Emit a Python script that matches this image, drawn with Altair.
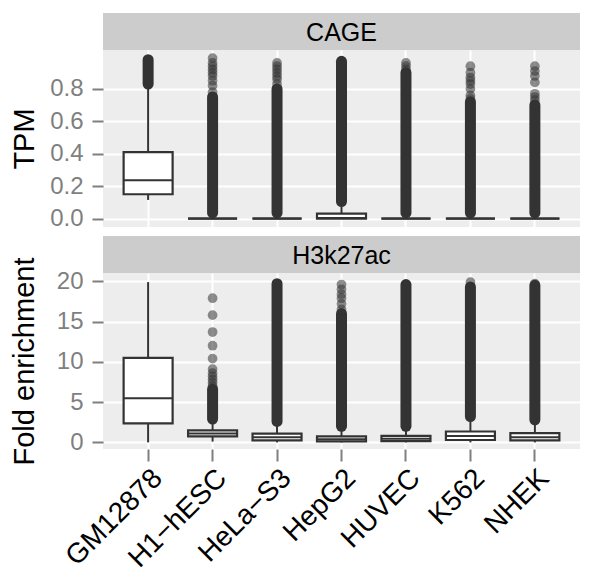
import altair as alt
import pandas as pd

cells = ["GM12878", "H1\u2212hESC", "HeLa\u2212S3", "HepG2", "HUVEC", "K562", "NHEK"]
facet_labels = ["CAGE", "H3k27ac"]

# CAGE (TPM) box statistics
cage_lower = [0.115, 0.0, 0.0, 0.0, 0.0, 0.0, 0.0]
cage_q1 = [0.15, 0.0, 0.0, 0.0, 0.0, 0.0, 0.0]
cage_median = [0.237, 0.0, 0.0, 0.004, 0.0, 0.0, 0.0]
cage_q3 = [0.41, 0.0, 0.0, 0.03, 0.0, 0.0, 0.0]
cage_upper = [0.80, 0.0, 0.0, 0.072, 0.0, 0.0, 0.0]
# dense runs of outliers (low, high)
cage_dense_lo = [0.83, 0.035, 0.035, 0.105, 0.035, 0.035, 0.035]
cage_dense_hi = [0.98, 0.75, 0.80, 0.97, 0.90, 0.72, 0.70]
# sparse outliers
cage_outliers = {
    "H1\u2212hESC": [0.78, 0.82, 0.85, 0.88, 0.90, 0.92, 0.94, 0.96, 0.99],
    "HeLa\u2212S3": [0.83, 0.86, 0.88, 0.90, 0.92, 0.94, 0.96],
    "HUVEC": [0.92, 0.94, 0.96],
    "K562": [0.74, 0.76, 0.80, 0.83, 0.85, 0.87, 0.90, 0.94],
    "NHEK": [0.73, 0.75, 0.77, 0.84, 0.88, 0.91, 0.94],
}

# H3k27ac (fold enrichment) box statistics
h3_lower = [0.0, 0.1, 0.0, 0.0, 0.0, 0.0, 0.0]
h3_q1 = [2.37, 0.75, 0.25, 0.12, 0.15, 0.30, 0.25]
h3_median = [5.48, 1.10, 0.65, 0.38, 0.45, 0.80, 0.65]
h3_q3 = [10.5, 1.50, 1.10, 0.75, 0.80, 1.35, 1.15]
h3_upper = [19.9, 2.6, 2.3, 1.7, 1.75, 2.9, 2.5]
h3_dense_lo = [None, 2.9, 2.6, 2.0, 2.0, 3.2, 2.8]
h3_dense_hi = [None, 6.6, 19.7, 16.0, 19.6, 19.3, 19.5]
h3_outliers = {
    "H1\u2212hESC": [7.0, 7.4, 7.8, 8.2, 8.6, 9.1, 10.4, 12.0, 13.7, 15.8, 17.9],
    "HepG2": [16.5, 17.2, 17.9, 18.4, 19.0, 19.6],
    "K562": [19.9],
    "NHEK": [19.7],
}

cage_ticks = [0.0, 0.2, 0.4, 0.6, 0.8]
h3_ticks = [0, 5, 10, 15, 20]

W = 477
FONT = "Liberation Sans"
DARK = "#333333"
GREY = "#7F7F7F"


def box_df(lower, q1, med, q3, upper):
    return pd.DataFrame({"cell": cells, "lower": lower, "q1": q1,
                         "median": med, "q3": q3, "upper": upper})


def dense_df(lo, hi):
    rows = [(c, a, b) for c, a, b in zip(cells, lo, hi) if a is not None]
    return pd.DataFrame(rows, columns=["cell", "lo", "hi"])


def out_df(d):
    rows = [(c, v) for c, vals in d.items() for v in vals]
    return pd.DataFrame(rows, columns=["cell", "value"])


def panel(box, dense, pts, domain, ticks, fmt, title, height, show_x):
    if show_x:
        xaxis = alt.Axis(title=None, labelAngle=-45, labelFontSize=28, labelFont=FONT,
                         labelColor="black", labelPadding=3, tickSize=12, tickWidth=2,
                         tickColor=GREY, domain=False, grid=True, gridColor="white",
                         gridWidth=2)
    else:
        xaxis = alt.Axis(title=None, labels=False, ticks=False, domain=False,
                         grid=True, gridColor="white", gridWidth=2)
    x = alt.X("cell:N", sort=cells,
              scale=alt.Scale(type="band", paddingInner=0, paddingOuter=0.2),
              axis=xaxis)
    yaxis = alt.Axis(values=ticks, format=fmt, title=title, titleFontSize=29,
                     titleFont=FONT, titleFontWeight="normal", titleColor="black",
                     titleX=-70, titleY=height / 2, titleBaseline="alphabetic",
                     titleAngle=270,
                     labelFontSize=24, labelFont=FONT, labelColor=GREY, labelPadding=9,
                     tickSize=11, tickWidth=2, tickColor=GREY, domain=False,
                     grid=True, gridColor="white", gridWidth=2)
    ys = alt.Scale(domain=domain, nice=False, zero=False)
    whisk = alt.Chart(box).mark_rule(color=DARK, strokeWidth=2).encode(
        x=x, y=alt.Y("lower:Q", scale=ys, axis=yaxis), y2="upper:Q")
    boxes = alt.Chart(box).mark_bar(size=49, fill="white", stroke=DARK,
                                    strokeWidth=2.2).encode(x=x, y="q1:Q", y2="q3:Q")
    med = alt.Chart(box).mark_tick(size=49, thickness=2, color=DARK,
                                   opacity=1).encode(x=x, y="median:Q")
    dn = alt.Chart(dense).mark_rule(strokeWidth=11, strokeCap="round",
                                    color=DARK).encode(x=x, y="lo:Q", y2="hi:Q")
    pt = alt.Chart(pts).mark_circle(size=95, color=DARK, opacity=0.55).encode(
        x=x, y="value:Q")
    return alt.layer(whisk, boxes, med, dn, pt).properties(
        width=W, height=height,
        view=alt.ViewBackground(fill="#EDEDED", stroke=None))


def strip(label, height, top):
    df = pd.DataFrame({"label": [label]})
    rect = alt.Chart(df).mark_rect(color="#CCCCCC").encode(
        x=alt.value(0), x2=alt.value(W), y=alt.value(top), y2=alt.value(height))
    txt = alt.Chart(df).mark_text(fontSize=25, font=FONT, color="black",
                                  baseline="middle").encode(
        x=alt.value(W / 2), y=alt.value((top + height) / 2 + 1), text="label:N")
    return alt.layer(rect, txt).properties(
        width=W, height=height, view=alt.ViewBackground(stroke=None))


p1 = panel(box_df(cage_lower, cage_q1, cage_median, cage_q3, cage_upper),
           dense_df(cage_dense_lo, cage_dense_hi), out_df(cage_outliers),
           [-0.052, 1.04], cage_ticks, ".1f", "TPM", 177, False)
p2 = panel(box_df(h3_lower, h3_q1, h3_median, h3_q3, h3_upper),
           dense_df(h3_dense_lo, h3_dense_hi), out_df(h3_outliers),
           [-0.82, 21.03], h3_ticks, "d", "Fold enrichment", 176, True)

s1 = strip(facet_labels[0], 37, 0)
s2 = strip(facet_labels[1], 46, 9)

chart = alt.vconcat(s1, p1, s2, p2, spacing=0, bounds="flush").properties(
    padding={"left": 2, "top": 5, "right": 5, "bottom": 5}
).configure_view(stroke=None)

chart.save("out.html", embed_options={"renderer": "svg", "actions": False})
